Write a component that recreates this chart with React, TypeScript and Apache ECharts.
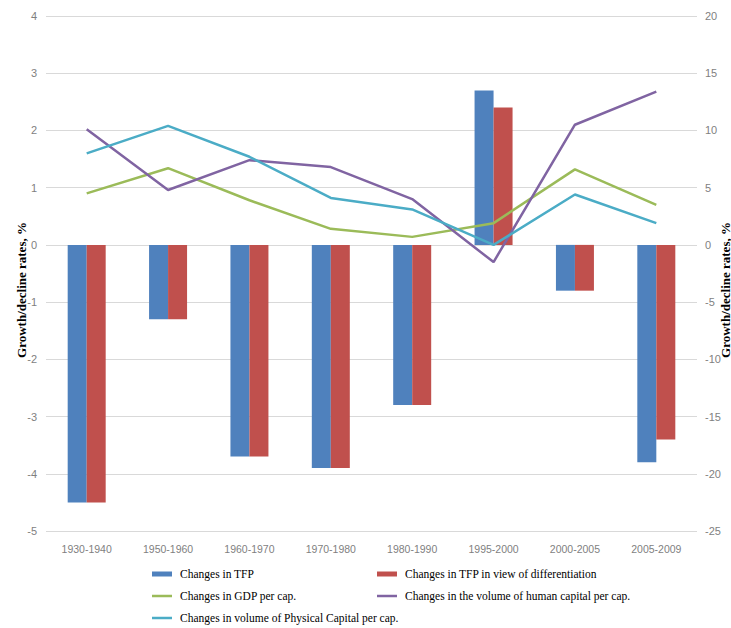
import React, { useEffect, useRef } from "react";
import * as echarts from "echarts";

const categories = ["1930-1940", "1950-1960", "1960-1970", "1970-1980", "1980-1990", "1995-2000", "2000-2005", "2005-2009"];
const tfp = [-4.5, -1.3, -3.7, -3.9, -2.8, 2.7, -0.8, -3.8];
const tfpDiff = [-4.5, -1.3, -3.7, -3.9, -2.8, 2.4, -0.8, -3.4];
const gdp = [4.5, 6.7, 3.9, 1.4, 0.7, 1.9, 6.6, 3.5];
const human = [10.1, 4.8, 7.4, 6.8, 4.0, -1.5, 10.5, 13.4];
const physical = [8.0, 10.4, 7.7, 4.1, 3.1, 0.0, 4.4, 1.9];

const axisTitle = "Growth/decline rates, %";
const labelFont = "'Liberation Sans Narrow', 'Liberation Sans', Arial, sans-serif";
const serif = "'Liberation Serif', 'Times New Roman', serif";
const lineIcon = "path://M0,0H20V2.5H0Z";

export default function App() {
  const ref = useRef<HTMLDivElement>(null);
  useEffect(() => {
    if (!ref.current) return;
    const chart = echarts.init(ref.current, null, { renderer: "svg" });
    const legendText = { fontFamily: serif, fontSize: 11.5, color: "#000", padding: [0, 0, 0, 3] };
    const legendBase = {
      orient: "vertical",
      top: 568,
      height: 60,
      padding: 0,
      itemWidth: 20,
      itemHeight: 5,
      itemGap: 10,
      symbolKeepAspect: true,
      textStyle: legendText,
    };
    chart.setOption({
      animation: false,
      backgroundColor: "#fff",
      grid: { left: 46, right: 34, top: 16, bottom: 97 },
      xAxis: {
        type: "category",
        data: categories,
        axisLine: { show: false },
        axisTick: { show: false },
        axisLabel: { color: "#7f7f7f", fontSize: 10.5, fontFamily: labelFont, margin: 12 },
      },
      yAxis: [
        {
          type: "value",
          min: -5,
          max: 4,
          interval: 1,
          axisLine: { show: false },
          axisTick: { show: false },
          axisLabel: { color: "#7f7f7f", fontSize: 11, fontFamily: labelFont, margin: 9 },
          splitLine: { lineStyle: { color: "#d9d9d9", width: 1 } },
        },
        {
          type: "value",
          min: -25,
          max: 20,
          interval: 5,
          axisLine: { show: false },
          axisTick: { show: false },
          axisLabel: { color: "#7f7f7f", fontSize: 11, fontFamily: labelFont, margin: 8 },
          splitLine: { show: false },
        },
      ],
      legend: [
        {
          ...legendBase,
          left: 152,
          data: [
            { name: "Changes in TFP", icon: "rect" },
            { name: "Changes in GDP per cap.", icon: lineIcon },
            { name: "Changes in volume of Physical Capital per cap.", icon: lineIcon },
          ],
        },
        {
          ...legendBase,
          left: 377,
          data: [
            { name: "Changes in TFP in view of differentiation", icon: "rect" },
            { name: "Changes in the volume of human capital per cap.", icon: lineIcon },
          ],
        },
      ],
      graphic: [
        {
          type: "text",
          x: 21,
          y: 290,
          rotation: Math.PI / 2,
          style: {
            text: axisTitle,
            fontFamily: serif,
            fontWeight: "bold",
            fontSize: 13,
            fill: "#000",
            textAlign: "center",
            textVerticalAlign: "middle",
          },
        },
        {
          type: "text",
          x: 725,
          y: 290,
          rotation: Math.PI / 2,
          style: {
            text: axisTitle,
            fontFamily: serif,
            fontWeight: "bold",
            fontSize: 13,
            fill: "#000",
            textAlign: "center",
            textVerticalAlign: "middle",
          },
        },
      ],
      series: [
        {
          name: "Changes in TFP",
          type: "bar",
          yAxisIndex: 0,
          data: tfp,
          barWidth: 19,
          barGap: "0%",
          itemStyle: { color: "#4F81BD" },
        },
        {
          name: "Changes in TFP in view of differentiation",
          type: "bar",
          yAxisIndex: 0,
          data: tfpDiff,
          barWidth: 19,
          barGap: "0%",
          itemStyle: { color: "#C0504D" },
        },
        {
          name: "Changes in GDP per cap.",
          type: "line",
          yAxisIndex: 1,
          data: gdp,
          symbol: "none",
          lineStyle: { color: "#9BBB59", width: 2.5 },
          itemStyle: { color: "#9BBB59" },
        },
        {
          name: "Changes in the volume of human capital per cap.",
          type: "line",
          yAxisIndex: 1,
          data: human,
          symbol: "none",
          lineStyle: { color: "#8064A2", width: 2.5 },
          itemStyle: { color: "#8064A2" },
        },
        {
          name: "Changes in volume of Physical Capital per cap.",
          type: "line",
          yAxisIndex: 1,
          data: physical,
          symbol: "none",
          lineStyle: { color: "#4BACC6", width: 2.5 },
          itemStyle: { color: "#4BACC6" },
        },
      ],
    });
    return () => chart.dispose();
  }, []);
  return <div ref={ref} style={{ position: "fixed", left: 0, top: 0, width: 731, height: 628 }} />;
}
